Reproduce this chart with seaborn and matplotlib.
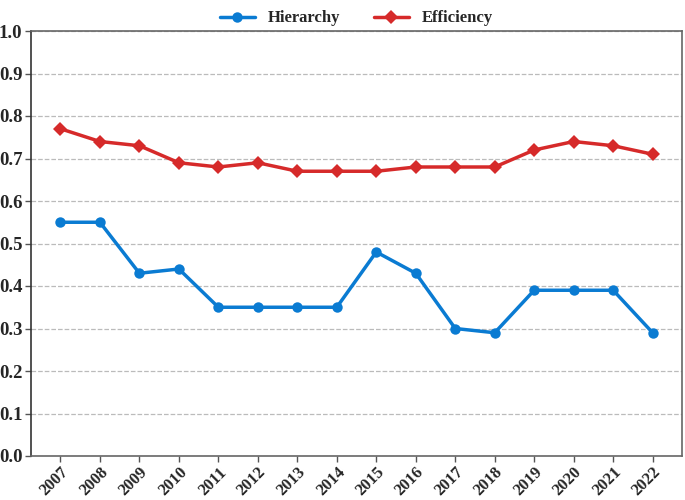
import matplotlib
matplotlib.use("Agg")
import matplotlib.pyplot as plt
import seaborn as sns
import pandas as pd

years = [str(y) for y in range(2007, 2023)]
hierarchy = [0.55, 0.55, 0.43, 0.44, 0.35, 0.35, 0.35, 0.35, 0.48, 0.43, 0.30, 0.29, 0.39, 0.39, 0.39, 0.29]
efficiency = [0.77, 0.74, 0.73, 0.69, 0.68, 0.69, 0.67, 0.67, 0.67, 0.68, 0.68, 0.68, 0.72, 0.74, 0.73, 0.71]
y_ticks = [0.0, 0.1, 0.2, 0.3, 0.4, 0.5, 0.6, 0.7, 0.8, 0.9, 1.0]


def main():
    sns.set_theme(style="white")
    plt.rcParams["font.family"] = ["Liberation Serif", "DejaVu Serif"]
    plt.rcParams["font.weight"] = "bold"
    df = pd.DataFrame({"year": years, "Hierarchy": hierarchy, "Efficiency": efficiency})

    fig = plt.figure(figsize=(6.85, 5), dpi=100)
    ax = fig.add_axes([0.045, 0.088, 0.951, 0.850])
    sns.lineplot(data=df, x="year", y="Hierarchy", ax=ax, color="#0a7bd2", lw=2.5,
                 marker="o", markersize=7.5, markeredgewidth=0, label="Hierarchy")
    sns.lineplot(data=df, x="year", y="Efficiency", ax=ax, color="#d62a2a", lw=2.5,
                 marker="D", markersize=7.5, markeredgewidth=0, label="Efficiency")

    ax.set_ylim(0, 1)
    ax.set_xlim(-0.75, len(years) - 0.25)
    ax.set_yticks(y_ticks)
    ax.set_yticklabels([f"{v:.1f}" for v in y_ticks], fontsize=13.5, fontweight="bold")
    ax.set_xticks(range(len(years)))
    ax.set_xticklabels(years, rotation=45, ha="right", rotation_mode="anchor",
                       fontsize=12, fontweight="bold")
    ax.tick_params(axis="both", which="both", direction="out", length=4, width=1,
                   color="#555555", bottom=True, left=True, pad=2)
    ax.grid(axis="y", ls="--", color="#bbbbbb", lw=0.9)
    ax.set_xlabel(""); ax.set_ylabel("")
    for side, sp in ax.spines.items():
        sp.set_color("#666666")
        sp.set_linewidth(1.2)
    ax.spines["left"].set_color("#333333")
    ax.legend(loc="lower center", bbox_to_anchor=(0.5, 0.995), ncol=2, frameon=False,
              prop={"size": 12, "weight": "bold"}, handlelength=2.1, handletextpad=0.8,
              columnspacing=2.0, borderaxespad=0)
    fig.savefig("out.png", dpi=100)


if __name__ == "__main__":
    main()
